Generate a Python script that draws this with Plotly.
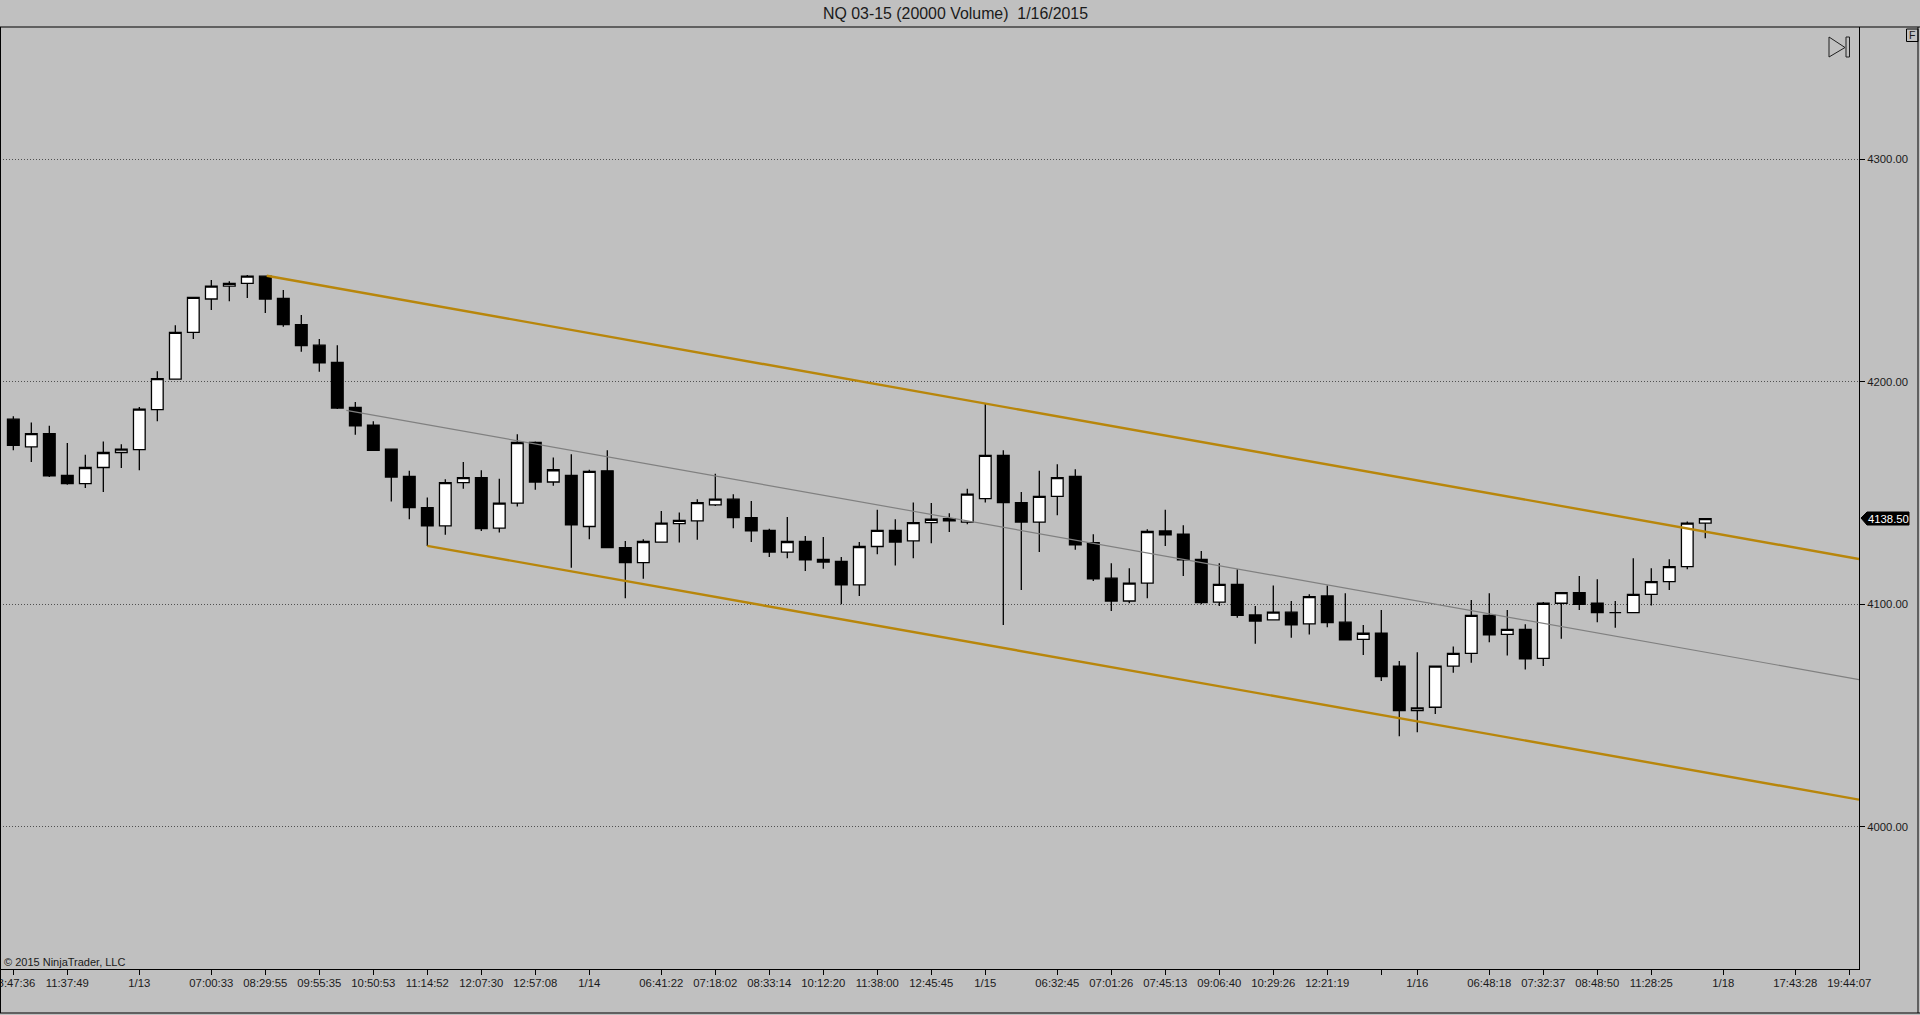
import plotly.graph_objects as go

# Values: one entry per 20000 volume bar
opens = [4183.25, 4170.75, 4176.75, 4158, 4154.25, 4161.5, 4168.25, 4169.5, 4187.5, 4201.25,
         4222.25, 4237.25, 4243, 4244.25, 4247.5, 4237.5, 4225.75, 4216.5, 4208.75, 4188.5,
         4180.5, 4169.75, 4157.5, 4143.5, 4135.25, 4154.75, 4157, 4134.25, 4145.5, 4172.75,
         4155, 4158, 4135, 4160, 4125.5, 4118.75, 4128, 4136.25, 4137.5, 4144.75,
         4147.25, 4139, 4133.25, 4123.5, 4128.25, 4120.25, 4119.25, 4108.75, 4126, 4133.25,
         4128.5, 4136.75, 4138.5, 4137, 4147.5, 4167, 4145.75, 4137, 4148.5, 4157.5,
         4127.75, 4111.75, 4101.5, 4109.5, 4133, 4131.5, 4120.25, 4101, 4109, 4095.25,
         4093, 4096.5, 4091.25, 4103.75, 4092, 4084.25, 4087, 4072.25, 4052.25, 4053.75,
         4072.25, 4078, 4095, 4086.5, 4088.75, 4075.75, 4100.5, 4105.25, 4100.5, 4096.25,
         4096.25, 4104.5, 4110.25, 4117, 4136.5]
highs = [4184.5, 4181.75, 4180.25, 4172.5, 4167.25, 4173.25, 4172, 4188.75, 4204.75, 4225.5,
         4238, 4245.75, 4245.25, 4248, 4247.75, 4241.25, 4230, 4219.25, 4216.5, 4191,
         4182.25, 4169.75, 4160, 4148, 4156.25, 4164, 4160.25, 4156.5, 4176.5, 4173.25,
         4166, 4167.5, 4160.5, 4169.25, 4128.5, 4129.25, 4142, 4141.25, 4147.25, 4158.75,
         4149.5, 4146.5, 4134, 4139.25, 4130.75, 4130.25, 4121.25, 4128, 4142.5, 4138.25,
         4145.75, 4145.5, 4141, 4152, 4190.25, 4169.25, 4150.5, 4160, 4163, 4160.75,
         4131.5, 4118.5, 4116.25, 4133.75, 4142.5, 4135.5, 4124, 4118.5, 4115.75, 4099.25,
         4108.5, 4101.5, 4104.5, 4108.5, 4105, 4090.75, 4097.5, 4074.5, 4078.5, 4072.25,
         4081, 4102, 4105, 4097.5, 4091, 4101, 4105.25, 4112.75, 4111.25, 4101.5,
         4120.75, 4116.25, 4120.25, 4137.25, 4138.75]
lows = [4169.25, 4164, 4157.25, 4153.75, 4152.25, 4150.5, 4161.25, 4160.25, 4182.25, 4201.25,
        4219.25, 4232.25, 4236.25, 4237.75, 4231, 4224.75, 4213.5, 4204.5, 4187.75, 4176.25,
        4169, 4146.25, 4138.25, 4126.25, 4131.25, 4152, 4133, 4132.25, 4144, 4151.5,
        4153.25, 4116.5, 4129.25, 4125.5, 4102.75, 4111.5, 4127.75, 4127.75, 4129, 4144.25,
        4134.25, 4128, 4121.25, 4120.75, 4115, 4116, 4100, 4103.75, 4122.5, 4117.5,
        4120.75, 4127.5, 4132.5, 4136, 4145.75, 4090.75, 4106.5, 4123.5, 4140, 4124.5,
        4110.5, 4097, 4100.5, 4102.75, 4126.25, 4112.75, 4100, 4099.25, 4094, 4082.25,
        4093, 4085, 4086.5, 4089.75, 4084, 4077.25, 4065.5, 4040.75, 4042.5, 4050.75,
        4069.25, 4073.75, 4083, 4077, 4070.75, 4072.25, 4084.5, 4097.5, 4092, 4089.5,
        4096.25, 4099.5, 4106.5, 4115.75, 4129.75]
closes = [4171.5, 4176.75, 4157.75, 4154.25, 4161.5, 4168.25, 4169.75, 4187.75, 4201.5, 4222.25,
          4238, 4243, 4244.25, 4247.5, 4237.25, 4225.75, 4216.25, 4208.5, 4188.25, 4180.25,
          4169.25, 4157.25, 4143.5, 4135.25, 4154.75, 4157, 4134, 4145.5, 4172.75, 4155,
          4160.5, 4135.75, 4159.75, 4125.5, 4118.75, 4128.25, 4136.5, 4137.75, 4145.75, 4147.25,
          4139, 4133, 4123.5, 4128.25, 4120, 4119, 4108.75, 4126, 4133.25, 4128,
          4136.75, 4138.25, 4137.5, 4149.5, 4167, 4145.75, 4137, 4148.5, 4157, 4126.75,
          4111.5, 4101.5, 4109.5, 4132.75, 4131.25, 4120, 4100.75, 4109, 4095, 4092.5,
          4096.5, 4090.75, 4103.5, 4091.75, 4084, 4087, 4067.5, 4052.25, 4053.5, 4072.25,
          4078, 4095, 4086.25, 4088.75, 4075.5, 4100.5, 4105.25, 4100, 4096.25, 4096.25,
          4104.5, 4110.25, 4117, 4136.5, 4138.5]
bars = list(range(len(opens)))

# Bar numbers that carry a label or a tick on the time axis
tick_bars = [0, 3, 7, 11, 14, 17, 20, 23, 26, 29, 32, 36, 39, 42, 45, 48, 51, 54, 58, 61, 64, 67,
             70, 73, 76, 78, 82, 85, 88, 91, 95, 99, 102]
tick_labels = ['08:47:36', '11:37:49', '1/13', '07:00:33', '08:29:55', '09:55:35', '10:50:53',
               '11:14:52', '12:07:30', '12:57:08', '1/14', '06:41:22', '07:18:02', '08:33:14',
               '10:12:20', '11:38:00', '12:45:45', '1/15', '06:32:45', '07:01:26', '07:45:13',
               '09:06:40', '10:29:26', '12:21:19', '', '1/16', '06:48:18', '07:32:37', '08:48:50',
               '11:28:25', '1/18', '17:43:28', '19:44:07']
price_ticks = [4000, 4100, 4200, 4300]
last_price = 4138.5

# Channel drawn on the chart: start and end of each line
upper_x, upper_y = [14.08, 102.54], [4247.7, 4120.4]
lower_x, lower_y = [23.0, 102.54], [4126.3, 4012.2]
middle_x, middle_y = [18.5, 102.54], [4187.2, 4066.2]

W, H = 1920, 1015
LEFT, RIGHT, TOP, BOTTOM = 0, 1859, 27, 969
BG = '#c0c0c0'
INK = '#1a1a1a'
FONT = 'Liberation Sans, Arial, sans-serif'


# Screen pixels to paper coordinates, for the window furniture only
def px(x):
    return (x - LEFT) / (RIGHT - LEFT)


def py(y):
    return (BOTTOM - y) / (BOTTOM - TOP)


fig = go.Figure()

fig.add_trace(go.Candlestick(
    x=bars, open=opens, high=highs, low=lows, close=closes,
    whiskerwidth=0,
    increasing=dict(fillcolor='white', line=dict(color='black', width=1.3)),
    decreasing=dict(fillcolor='black', line=dict(color='black', width=1.3)),
    showlegend=False,
))

for xs, ys, color, width in [(middle_x, middle_y, '#808080', 1.2),
                             (upper_x, upper_y, '#b8860b', 2.4),
                             (lower_x, lower_y, '#b8860b', 2.4)]:
    fig.add_trace(go.Scatter(x=xs, y=ys, mode='lines', showlegend=False,
                             line=dict(color=color, width=width)))

fig.update_layout(
    width=W, height=H,
    margin=dict(l=LEFT, r=W - RIGHT, t=TOP, b=H - BOTTOM, pad=0),
    paper_bgcolor=BG, plot_bgcolor=BG,
    font=dict(family=FONT, size=11.3, color=INK),
    boxgap=0.35, boxgroupgap=0,
    xaxis=dict(range=[-0.74, 102.54], rangeslider=dict(visible=False), showgrid=False,
               zeroline=False, showline=True, linecolor='black', linewidth=1,
               ticks='outside', ticklen=5, tickcolor='black', tickwidth=1,
               tickmode='array', tickvals=tick_bars, ticktext=tick_labels, tickangle=0,
               ticklabeloverflow='allow', automargin=False, ticklabelstandoff=-2),
    yaxis=dict(range=[3936.1, 4359.5], side='right', showgrid=True, gridcolor='#505050',
               griddash='1px,2px', gridwidth=1, zeroline=False, showline=True, linecolor='black',
               linewidth=1, ticks='outside', ticklen=5, tickcolor='black', tickwidth=1,
               tickmode='array', tickvals=price_ticks,
               ticktext=[f'{p:.2f}' for p in price_ticks], ticklabeloverflow='allow',
               automargin=False),
)

# Window frame, title bar line and the small buttons
frame = dict(type='line', xref='paper', yref='paper', line=dict(color='black', width=1))
fig.add_shape(x0=px(0), x1=px(W), y0=py(27), y1=py(27), **frame)
fig.add_shape(x0=px(0), x1=px(W), y0=py(1013), y1=py(1013), **frame)
fig.add_shape(x0=px(0.5), x1=px(0.5), y0=py(27), y1=py(1013), **frame)
fig.add_shape(x0=px(1918), x1=px(1918), y0=py(27), y1=py(1013), **frame)
fig.add_shape(type='rect', xref='paper', yref='paper', x0=px(1906.5), x1=px(1918), y0=py(29), y1=py(41.5),
              line=dict(color='black', width=1))
fig.add_shape(type='path', xref='paper', yref='paper',
              path=f'M {px(1829)},{py(37)} L {px(1845)},{py(47.5)} L {px(1829)},{py(57)} Z',
              line=dict(color='#202020', width=1))
fig.add_shape(type='rect', xref='paper', yref='paper', x0=px(1846), x1=px(1849.5), y0=py(37), y1=py(57),
              line=dict(color='#202020', width=1))
# Pointer of the last price flag
fig.add_shape(type='path', xref='paper', yref='paper',
              path=f'M {px(1861)},{py(518)} L {px(1867)},{py(512)} L {px(1909)},{py(512)} '
                   f'L {px(1909)},{py(525)} L {px(1867)},{py(525)} Z',
              fillcolor='black', line=dict(color='black', width=1))

text = dict(xref='paper', yref='paper', showarrow=False, yanchor='middle')
fig.add_annotation(x=px(955), y=py(13), xanchor='center', **text,
                   text='NQ 03-15 (20000 Volume) \u00a01/16/2015', font=dict(size=15.9, color=INK))
fig.add_annotation(x=px(2), y=py(962), xanchor='left', **text,
                   text='\u00a9 2015 NinjaTrader, LLC', font=dict(size=11, color=INK))
fig.add_annotation(x=px(1912.5), y=py(35), xanchor='center', **text,
                   text='F', font=dict(size=10.5, color=INK))
fig.add_annotation(x=px(1888), y=py(518.5), xanchor='center', **text,
                   text=f'{last_price:.2f}', font=dict(size=11.3, color='white'))

# The page's default body margin would push the picture off by 8px
fig.write_html("out.html", config={'displayModeBar': False},
               post_script="document.body.style.margin='0';document.body.style.overflow='hidden';")
